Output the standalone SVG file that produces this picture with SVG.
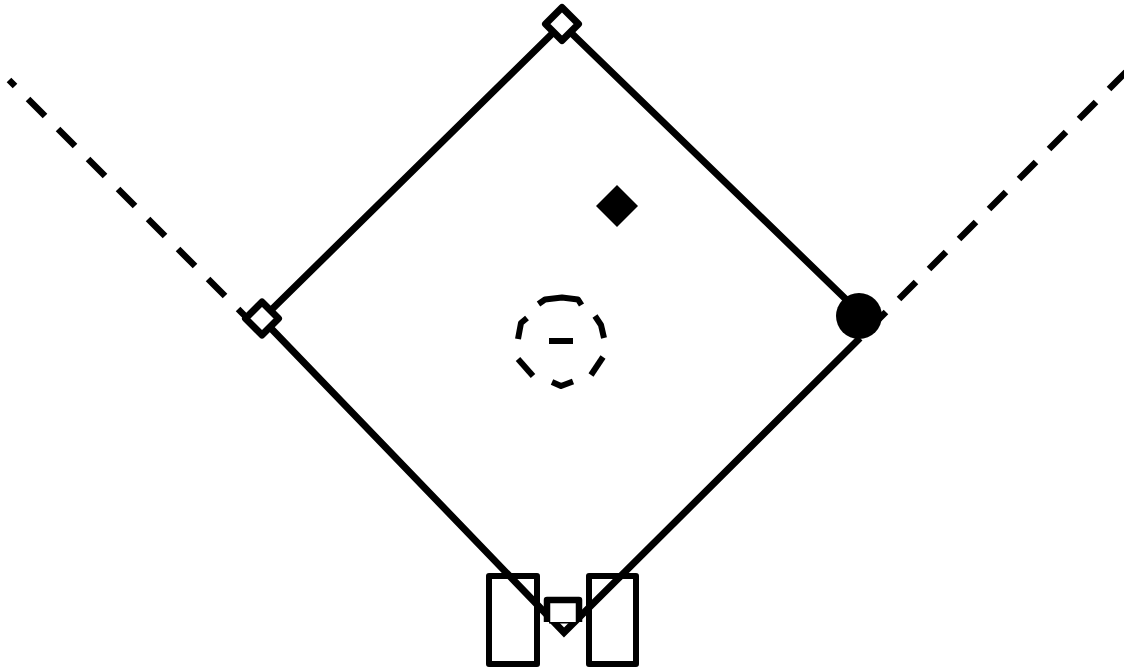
<svg xmlns="http://www.w3.org/2000/svg" width="1124" height="668" viewBox="0 0 1124 668">
<style>
.ln{fill:none;stroke:#000;stroke-width:6.500}
.dia{fill:none;stroke:#000;stroke-width:7}
.box{fill:none;stroke:#000;stroke-width:6;stroke-linejoin:round}
.rj{stroke-linejoin:round}
.dash{stroke-dasharray:24 18.430}
.mound{fill:none;stroke:#000;stroke-width:6;stroke-linejoin:round}
.base{fill:#fff;stroke:#000;stroke-width:7;stroke-linejoin:round}
</style>
<rect width="1124" height="668" fill="#fff"/>
<g id="connectors">
<path class="ln dash" d="M9 80L250 321" stroke-dashoffset="15.500"/>
<path class="ln dash" d="M869 329L1126 72"/>
<path class="dia" d="M562 24L859 312M860 338L564 632.500L262 319L562 24"/>
</g>
<g id="second-base"><path class="base" d="M562 7.500L578.500 24L562 40.500L545.500 24Z"/></g>
<g id="third-base"><path class="base" d="M262 302L278.500 318.500L262 335L245.500 318.500Z"/></g>
<g id="first-base"><circle cx="859" cy="316" r="23" fill="#000"/></g>
<g id="fielder"><path d="M617 185L638 206L617 227L596 206Z" fill="#000"/></g>
<g id="mound">
<path class="mound" d="M538.500 304L545 299.500L562 297.500L578 299.500L581.500 305"/>
<path class="mound" d="M595 316L601 325L604 338"/>
<path class="mound" d="M603 357L591 375"/>
<path class="mound" d="M552 382L561 386L573 381.500"/>
<path class="mound" d="M518 359L533 376"/>
<path class="mound" d="M527 318L521 323L518 339"/>
<rect x="549" y="338" width="24" height="6" fill="#000"/>
</g>
<g id="left-box"><rect class="box" x="489" y="576" width="48" height="88"/></g>
<g id="right-box"><rect class="box" x="589" y="576" width="47" height="88"/></g>
<g id="home-plate">
<rect x="549" y="603" width="27" height="19" fill="#fff"/>
<rect x="549" y="622" width="27" height="1.500" fill="#000"/>
<path class="ln rj" d="M547 622V600H579V622"/>
</g>
</svg>
